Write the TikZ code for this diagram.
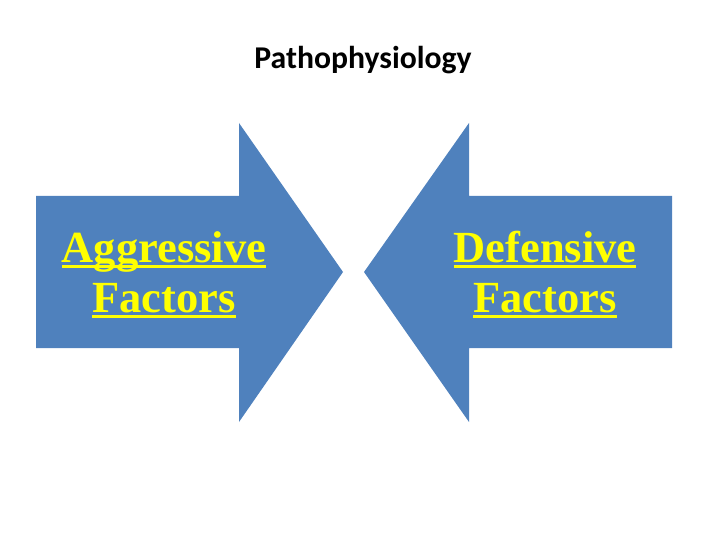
\documentclass[tikz,border=0pt]{standalone}
\usepackage{fontspec}
\setmainfont{Liberation Serif}
\newfontfamily\titlefont{Carlito}
\usetikzlibrary{positioning}
\definecolor{officeblue}{RGB}{79, 129, 189}
\definecolor{factoryellow}{RGB}{255, 255, 0}
\newcommand{\ulfactor}[1]{\setbox0\hbox{#1}\rlap{\rule[-6pt]{\wd0}{3.5pt}}\box0}

\begin{document}
\begin{tikzpicture}[
    x=1pt, y=-1pt,
    bigarrow/.style={fill=officeblue, draw=none},
    factor/.style={text=factoryellow, align=center, anchor=base, inner sep=0pt,
                   font=\fontsize{44.5}{50}\selectfont\bfseries},
    heading/.style={anchor=base, inner sep=0pt, font=\titlefont\fontsize{31.7}{36}\selectfont\bfseries}
]
    \useasboundingbox (0,0) rectangle (720,540);
    \node[heading] (title) at (363,69) {Pathophysiology};

    % aggressive arrow, pointing right
    \fill[bigarrow] (36,196) -- (239,196) -- (239,123) -- (343,272)
        -- (239,422) -- (239,348) -- (36,348) -- cycle;
    % defensive arrow, pointing left
    \fill[bigarrow] (672,196) -- (469,196) -- (469,123) -- (364,272)
        -- (469,422) -- (469,348) -- (672,348) -- cycle;

    \node[factor] (aggressive) at (164,312) {\ulfactor{Aggressive}\\\ulfactor{Factors}};
    \node[factor] (defensive) at (545,312) {\ulfactor{Defensive}\\\ulfactor{Factors}};
\end{tikzpicture}
\end{document}
